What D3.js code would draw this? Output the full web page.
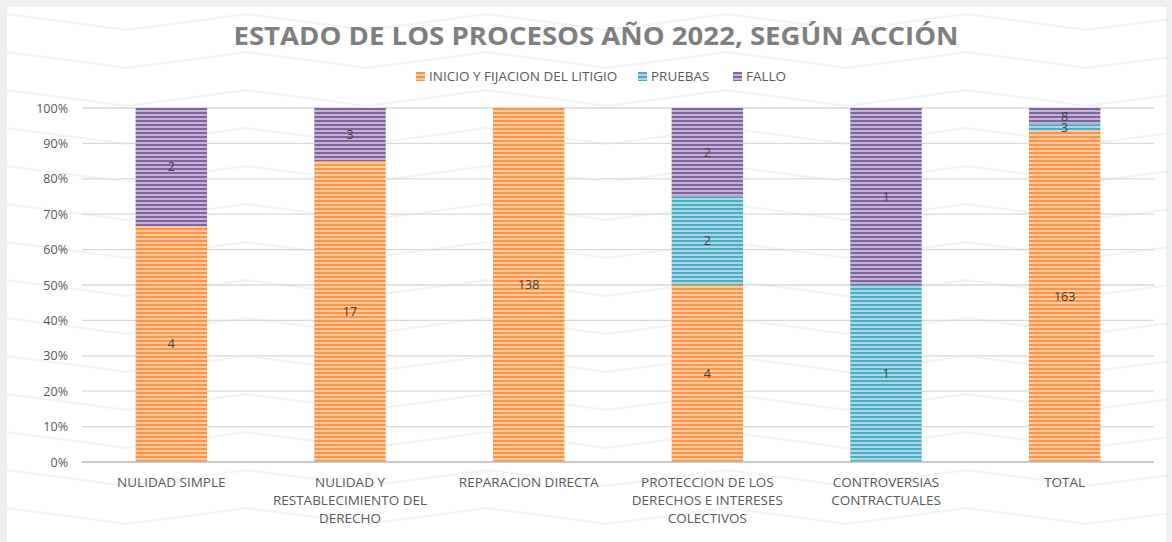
<!DOCTYPE html>
<html><head><meta charset="utf-8">
<script src="https://cdn.jsdelivr.net/npm/d3@7"></script>
<style>
html,body{margin:0;padding:0;background:#eeeff1;}
svg{display:block;}
</style></head>
<body>
<svg id="chart" width="1172" height="542"></svg>
<script>
const title = "ESTADO DE LOS PROCESOS AÑO 2022, SEGÚN ACCIÓN";
const categories = ["NULIDAD SIMPLE", "NULIDAD Y\nRESTABLECIMIENTO DEL\nDERECHO", "REPARACION DIRECTA", "PROTECCION DE LOS\nDERECHOS E INTERESES\nCOLECTIVOS", "CONTROVERSIAS\nCONTRACTUALES", "TOTAL"];
const seriesNames = ["INICIO Y FIJACION DEL LITIGIO", "PRUEBAS", "FALLO"];
const inicio = [4, 17, 138, 4, 0, 163];
const pruebas = [0, 0, 0, 2, 1, 3];
const fallo = [2, 3, 0, 2, 1, 8];
const yTicks = [0, 0.1, 0.2, 0.3, 0.4, 0.5, 0.6, 0.7, 0.8, 0.9, 1.0];

const colors = [
  {dark:"#f79646", light:"#fcc89e"},
  {dark:"#4bacc6", light:"#a8d8e6"},
  {dark:"#8064a2", light:"#c3b4d6"}
];

const svg = d3.select("#chart");
svg.append("rect").attr("x",7).attr("y",7).attr("width",1159).attr("height",535).attr("fill","#ffffff");

const defs = svg.append("defs");
colors.forEach((c,i)=>{
  const p = defs.append("pattern").attr("id","pat"+i).attr("patternUnits","userSpaceOnUse")
    .attr("width",8).attr("height",4);
  p.append("rect").attr("width",8).attr("height",4).attr("fill",c.light);
  p.append("rect").attr("width",8).attr("height",2).attr("fill",c.dark);
});

// faint zigzag background decoration
const waveG = svg.append("g").attr("opacity",0.6);
for (let k=0;k<15;k++){
  const y0 = 14 + k*38;
  const pts = [];
  for (let i=0, xx=7; xx<=1240; xx+=120, i++){
    pts.push([xx, y0 + (i%2===0 ? 0 : 16)]);
  }
  waveG.append("path").attr("d", d3.line()(pts))
    .attr("fill","none").attr("stroke","#e4eeee").attr("stroke-width",2);
}

const margin = {left:82, right:1154, top:108, bottom:462};
const x = d3.scaleBand().domain(categories).range([margin.left, margin.right]).paddingInner(0.6).paddingOuter(0.3);
const y = d3.scaleLinear().domain([0,1]).range([margin.bottom, margin.top]);

svg.append("g").selectAll("line").data(yTicks).join("line")
  .attr("x1",margin.left).attr("x2",margin.right)
  .attr("y1",d=>y(d)).attr("y2",d=>y(d))
  .attr("stroke","#d9d9d9").attr("stroke-width",1.3);

const yAxis = d3.axisLeft(y).tickValues(yTicks).tickFormat(d3.format(".0%")).tickSize(0).tickPadding(14);
const ya = svg.append("g").attr("transform",`translate(${margin.left},0)`).call(yAxis);
ya.select(".domain").remove();
ya.selectAll("text").attr("font-family","'Open Sans', sans-serif").attr("font-size",12.5).attr("fill","#595959");

const rows = categories.map((c,i)=>({cat:c, s0:inicio[i], s1:pruebas[i], s2:fallo[i]}));
const stack = d3.stack().keys(["s0","s1","s2"]).offset(d3.stackOffsetExpand);
const layers = stack(rows);

const barsG = svg.append("g");
layers.forEach((layer,li)=>{
  barsG.append("g").selectAll("rect").data(layer).join("rect")
    .attr("x",d=>x(d.data.cat))
    .attr("width",x.bandwidth())
    .attr("y",d=>y(d[1]))
    .attr("height",d=>Math.max(0,y(d[0])-y(d[1])))
    .attr("fill",`url(#pat${li})`);
});

layers.forEach((layer,li)=>{
  barsG.append("g").selectAll("text").data(layer.filter(d=>d.data[layer.key]>0)).join("text")
    .attr("x",d=>x(d.data.cat)+x.bandwidth()/2)
    .attr("y",d=>(y(d[0])+y(d[1]))/2)
    .attr("dy","0.35em")
    .attr("text-anchor","middle")
    .attr("font-family","'Open Sans', sans-serif").attr("font-size",12.5).attr("fill","#404040")
    .text(d=>d.data[layer.key]);
});

svg.append("line").attr("x1",margin.left).attr("x2",margin.right)
  .attr("y1",y(0)).attr("y2",y(0)).attr("stroke","#bfbfbf").attr("stroke-width",1.3);

const xa = svg.append("g");
categories.forEach(c=>{
  const lines = c.split("\n");
  const t = xa.append("text").attr("text-anchor","middle")
    .attr("font-family","'Open Sans', sans-serif").attr("font-size",13.5).attr("fill","#595959");
  lines.forEach((ln,j)=>{
    t.append("tspan").attr("x",x(c)+x.bandwidth()/2).attr("y",487+j*18).text(ln);
  });
});

svg.append("text").attr("x",596).attr("y",45).attr("text-anchor","middle")
  .attr("font-family","'Open Sans', sans-serif").attr("font-weight","bold").attr("font-size",25)
  .attr("fill","#7f7f7f").attr("textLength",725).attr("lengthAdjust","spacingAndGlyphs")
  .text(title);

const legendX = [416, 638, 733];
const lg = svg.append("g");
seriesNames.forEach((n,i)=>{
  lg.append("rect").attr("x",legendX[i]).attr("y",72).attr("width",9).attr("height",9).attr("fill",`url(#pat${i})`);
  lg.append("text").attr("x",legendX[i]+13).attr("y",81)
    .attr("font-family","'Open Sans', sans-serif").attr("font-size",13.5).attr("fill","#595959").text(n);
});
</script>
</body></html>
